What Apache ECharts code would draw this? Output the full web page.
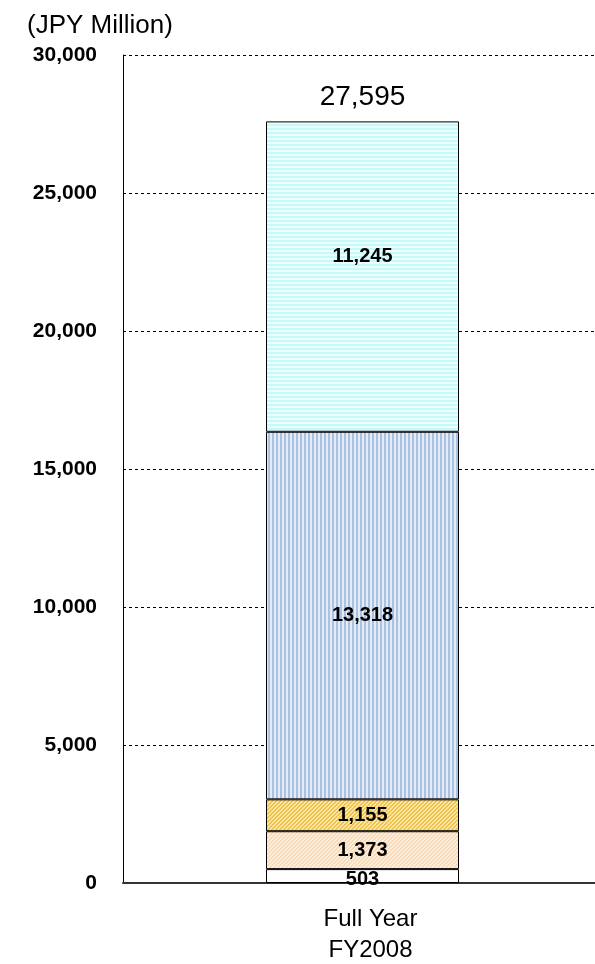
<!DOCTYPE html>
<html>
<head>
<meta charset="utf-8">
<script src="https://cdn.jsdelivr.net/npm/echarts@6/dist/echarts.min.js"></script>
<style>
  html, body { margin: 0; padding: 0; background: #fff; }
  #main { width: 595px; height: 964px; }
</style>
</head>
<body>
<div id="main"></div>
<script>
  // data
  var categories = ['Full Year\nFY2008'];
  var seg1 = [503];
  var seg2 = [1373];
  var seg3 = [1155];
  var seg4 = [13318];
  var seg5 = [11245];
  var totals = [27595];

  // small repeating tiles for the hatch fills
  function stripeTile(w, h, colA, colB, test) {
    var c = document.createElement('canvas');
    c.width = w; c.height = h;
    var ctx = c.getContext('2d');
    for (var x = 0; x < w; x++) {
      for (var y = 0; y < h; y++) {
        ctx.fillStyle = test(x, y) ? colA : colB;
        ctx.fillRect(x, y, 1, 1);
      }
    }
    return { image: c, repeat: 'repeat' };
  }

  var fillCyan = stripeTile(4, 4, '#c6fafa', '#ecffff', function (x, y) { return y % 4 < 2; });
  var fillBlue = stripeTile(4, 4, '#a9c2e2', '#e2ebf6', function (x, y) { return x % 4 < 2; });
  var fillOrange = stripeTile(4, 4, '#efc24e', '#fbe6a4', function (x, y) { return (x + y) % 4 < 2; });
  var fillPeach = stripeTile(4, 4, '#f8dab6', '#fdefdf', function (x, y) { return (x + y) % 4 < 2; });

  var FONT = 'Liberation Sans, Arial, sans-serif';

  var chartDom = document.getElementById('main');
  var myChart = echarts.init(chartDom);

  var segLabel = {
    show: true,
    position: 'inside',
    color: '#000',
    fontFamily: FONT,
    fontWeight: 'bold',
    fontSize: 20,
    formatter: function (p) { return p.value.toLocaleString('en-US'); }
  };

  function segment(name, data, fill, extraLabel) {
    return {
      name: name,
      type: 'bar',
      stack: 'total',
      barWidth: 193,
      data: data,
      itemStyle: { color: fill, borderColor: '#000', borderWidth: 1 },
      label: Object.assign({}, segLabel, extraLabel || {}),
      emphasis: { disabled: true },
      silent: true
    };
  }

  var option = {
    animation: false,
    title: {
      text: '(JPY Million)',
      left: 22,
      top: 8,
      textStyle: {
        fontFamily: FONT,
        fontWeight: 'normal',
        fontSize: 26,
        color: '#000'
      }
    },
    grid: { left: 123, top: 55, width: 479, height: 828, outerBoundsMode: 'none' },
    xAxis: {
      type: 'category',
      data: categories,
      axisLine: { lineStyle: { color: '#333', width: 2 } },
      axisTick: { show: false },
      axisLabel: {
        color: '#000',
        fontFamily: FONT,
        fontSize: 24,
        lineHeight: 31,
        margin: 21,
        padding: [0, 0, 0, 16]
      }
    },
    yAxis: {
      type: 'value',
      min: 0,
      max: 30000,
      interval: 5000,
      axisLine: { show: true, lineStyle: { color: '#000', width: 1 } },
      axisTick: { show: false },
      splitLine: { lineStyle: { color: '#000', type: [3, 3], width: 1 } },
      axisLabel: {
        color: '#000',
        fontFamily: FONT,
        fontWeight: 'bold',
        fontSize: 21,
        margin: 26,
        formatter: function (v) { return v.toLocaleString('en-US'); }
      }
    },
    series: [
      segment('seg1', seg1, '#ffffff', { offset: [0, 3] }),
      segment('seg2', seg2, fillPeach),
      segment('seg3', seg3, fillOrange),
      segment('seg4', seg4, fillBlue),
      segment('seg5', seg5, fillCyan, { offset: [0, -20] }),
      {
        // zero-height cap on the stack, only carries the total label
        name: 'total',
        type: 'bar',
        stack: 'total',
        barWidth: 193,
        data: totals.map(function () { return 0; }),
        itemStyle: { color: 'rgba(0,0,0,0)', borderWidth: 0 },
        silent: true,
        label: {
          show: true,
          position: 'top',
          distance: 10,
          color: '#000',
          fontFamily: FONT,
          fontSize: 28,
          formatter: function (p) { return totals[p.dataIndex].toLocaleString('en-US'); }
        }
      }
    ]
  };

  option && myChart.setOption(option);
</script>
</body>
</html>
